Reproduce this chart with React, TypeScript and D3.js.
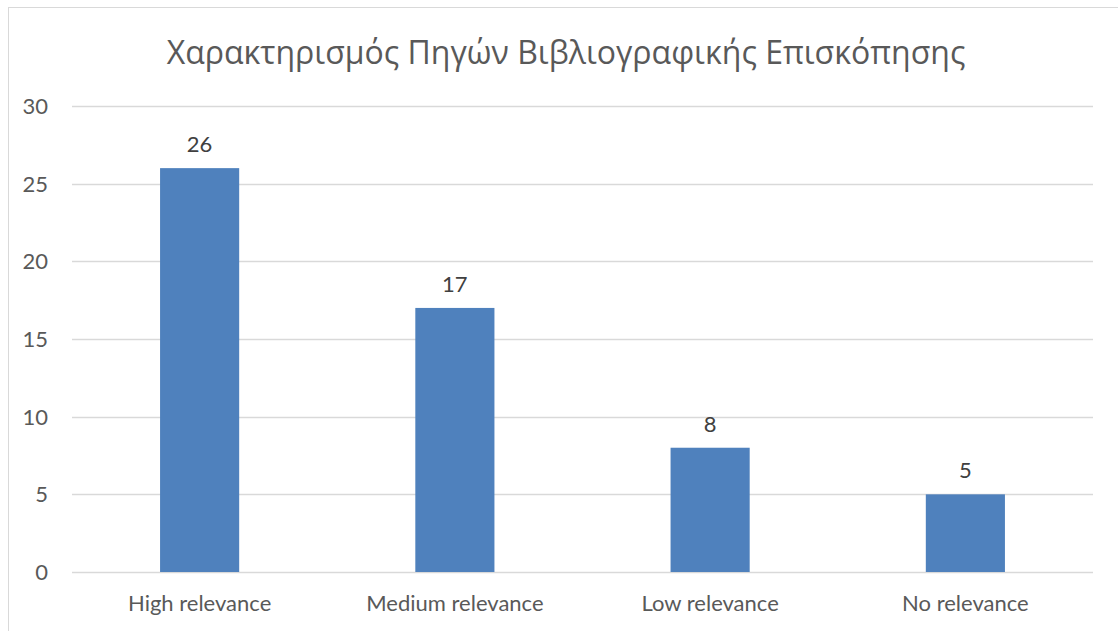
import React from 'react';
import * as d3 from 'd3';

const categories = ['High relevance', 'Medium relevance', 'Low relevance', 'No relevance'];
const counts = [26, 17, 8, 5];
const yTicks = [0, 5, 10, 15, 20, 25, 30];
const title = 'Χαρακτηρισμός Πηγών Βιβλιογραφικής Επισκόπησης';

const W = 1118;
const H = 631;
const FONT = "Lato, 'Open Sans', sans-serif";
const TEXT = '#595959';

const App: React.FC = () => {
  const x = d3.scaleBand<string>()
    .domain(categories)
    .range([72, 1093])
    .paddingInner(0.69)
    .paddingOuter(0.345);

  const y = d3.scaleLinear().domain([0, 30]).range([572, 106]);

  return (
    <svg width={W} height={H} style={{ position: 'absolute', left: 0, top: 0, background: '#fff' }}>
      <rect x={8.5} y={7.5} width={W + 20} height={H + 20} fill="#fff" stroke="#d9d9d9" />
      <text x={566} y={64} textAnchor="middle" fill={TEXT} fontFamily="'Open Sans', sans-serif" fontSize={32}>
        {title}
      </text>

      {yTicks.map(t => (
        <g key={t}>
          <line x1={72} x2={1093} y1={Math.round(y(t)) + 0.5} y2={Math.round(y(t)) + 0.5} stroke="#d9d9d9" strokeWidth={1.5} />
          <text x={48} y={y(t)} dy="0.36em" textAnchor="end" fill={TEXT} fontFamily={FONT} fontSize={22}>
            {t}
          </text>
        </g>
      ))}

      {categories.map((c, i) => (
        <g key={c}>
          <rect
            x={x(c)}
            y={y(counts[i])}
            width={x.bandwidth()}
            height={y(0) - y(counts[i])}
            fill="#4f81bd"
          />
          <text
            x={(x(c) || 0) + x.bandwidth() / 2}
            y={y(counts[i]) - 16}
            textAnchor="middle"
            fill="#404040"
            fontFamily={FONT}
            fontSize={22}
          >
            {counts[i]}
          </text>
          <text
            x={(x(c) || 0) + x.bandwidth() / 2}
            y={611}
            textAnchor="middle"
            fill={TEXT}
            fontFamily={FONT}
            fontSize={22}
          >
            {c}
          </text>
        </g>
      ))}
    </svg>
  );
};

export default App;
